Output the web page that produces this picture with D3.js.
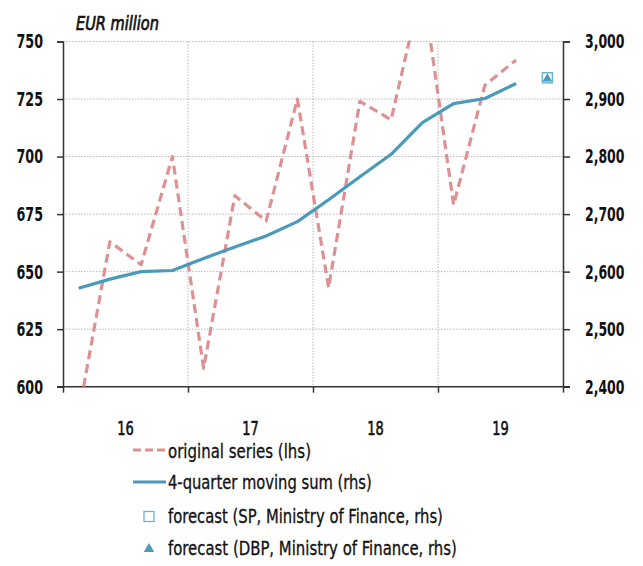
<!DOCTYPE html>
<html>
<head>
<meta charset="utf-8">
<script src="https://cdn.jsdelivr.net/npm/d3@7"></script>
<style>
  html, body { margin: 0; padding: 0; background: #fff; }
  svg { display: block; }
  text { font-family: "DejaVu Sans Condensed", "DejaVu Sans", sans-serif; fill: #111; }
</style>
</head>
<body>
<svg id="chart" width="643" height="566"></svg>
<script>
// Quarterly periods, 2016Q1 .. 2019Q3
const quarters = ["2016Q1","2016Q2","2016Q3","2016Q4",
                  "2017Q1","2017Q2","2017Q3","2017Q4",
                  "2018Q1","2018Q2","2018Q3","2018Q4",
                  "2019Q1","2019Q2","2019Q3"];
// Original quarterly series, EUR million (left axis)
const originalSeries = [588, 663, 653, 700, 608, 683, 672, 725, 643, 724, 716, 775, 679, 731, 742];
// 4-quarter moving sum, EUR million (right axis)
const movingSum = [2571, 2587, 2600, 2602, 2623, 2643, 2662, 2687, 2725, 2765, 2804, 2859, 2892, 2901, 2927];
// Forecasts for 2019Q4 (right axis)
const forecastPeriod = "2019Q4";
const forecastSP = 2937;
const forecastDBP = 2937;

const years = [2016, 2017, 2018, 2019];
const yearLabels = ["16", "17", "18", "19"];
const leftTicks = [600, 625, 650, 675, 700, 725, 750];
const rightTicks = [2400, 2500, 2600, 2700, 2800, 2900, 3000];

const legendItems = [
  {label: "original series (lhs)", kind: "dash", width: 143},
  {label: "4-quarter moving sum (rhs)", kind: "line", width: 204},
  {label: "forecast (SP, Ministry of Finance, rhs)", kind: "square", width: 275},
  {label: "forecast (DBP, Ministry of Finance, rhs)", kind: "triangle", width: 289}
];

const RED = "#dd9192";
const BLUE = "#4a9aba";
const LIGHTBLUE = "#6fb0cc";
const AXIS = "#333";
const GRID = "#b8b8b8";

const svg = d3.select("#chart");
const plot = {left: 63, right: 563, top: 41.5, bottom: 386.7};

// quarter -> decimal year at the middle of the quarter
const qTime = q => +q.slice(0, 4) + (+q.slice(5) - 0.5) / 4;

const x = d3.scaleLinear().domain([2016, 2020]).range([plot.left, plot.right]);
const yL = d3.scaleLinear().domain([600, 750]).range([plot.bottom, plot.top]);
const yR = d3.scaleLinear().domain([2400, 3000]).range([plot.bottom, plot.top]);

// Squeeze labels horizontally to a condensed width, scaling about their anchor x
function narrow(sel, width) {
  sel.each(function () {
    const t = d3.select(this);
    const natural = this.getComputedTextLength();
    const w = typeof width === "function" ? width.call(this) : width;
    const k = w / natural;
    const ax = +(t.attr("x") || 0);
    t.attr("transform", `translate(${ax},0) scale(${k},1) translate(${-ax},0)`);
  });
}

svg.append("defs").append("clipPath").attr("id", "plotClip")
  .append("rect")
  .attr("x", plot.left).attr("y", plot.top - 1)
  .attr("width", plot.right - plot.left).attr("height", plot.bottom - plot.top + 1);

// Grid: horizontal at each tick, vertical at year boundaries
const grid = svg.append("g");
grid.selectAll("line.h").data(leftTicks.slice(1)).join("line")
  .attr("x1", plot.left).attr("x2", plot.right)
  .attr("y1", d => yL(d)).attr("y2", d => yL(d))
  .attr("stroke", GRID).attr("stroke-width", 1).attr("stroke-dasharray", "1.5,1.5");
grid.selectAll("line.v").data([2017, 2018, 2019]).join("line")
  .attr("x1", d => x(d)).attr("x2", d => x(d))
  .attr("y1", plot.top).attr("y2", plot.bottom)
  .attr("stroke", GRID).attr("stroke-width", 1).attr("stroke-dasharray", "1.5,1.5");

// Axes
const fmt = d3.format(",");
const axL = svg.append("g").attr("transform", `translate(${plot.left},0)`)
  .call(d3.axisLeft(yL).tickValues(leftTicks).tickSize(6).tickPadding(14));
const axR = svg.append("g").attr("transform", `translate(${plot.right},0)`)
  .call(d3.axisRight(yR).tickValues(rightTicks).tickSize(7).tickPadding(15).tickFormat(fmt));
const axB = svg.append("g").attr("transform", `translate(0,${plot.bottom})`)
  .call(d3.axisBottom(x).tickValues([2016, 2017, 2018, 2019, 2020]).tickSize(6).tickFormat(""));

[axL, axR, axB].forEach(g => {
  g.select(".domain").attr("stroke", AXIS).attr("stroke-width", 1.5);
  g.selectAll(".tick line").attr("stroke", AXIS).attr("stroke-width", 1.5);
  g.selectAll(".tick text").attr("font-family", null)
    .attr("font-size", 20).attr("font-weight", "bold").attr("fill", "#111");
});
axL.selectAll(".tick text").call(narrow, 26.5);
axR.selectAll(".tick text").call(narrow, 39.5);
// extend bottom axis line over the tick stubs of the vertical axes
axB.select(".domain").attr("d", `M${plot.left - 6},0H${plot.right + 7}`);

// Year labels centred in each year
svg.append("g").selectAll("text").data(years).join("text")
  .attr("x", d => x(d + 0.5)).attr("y", 428).attr("dy", "0.36em")
  .attr("text-anchor", "middle").attr("font-size", 20)
  .attr("stroke", "#111").attr("stroke-width", 0.6)
  .text((d, i) => yearLabels[i])
  .call(narrow, 16.5);

// Unit label
svg.append("text").attr("x", 76).attr("y", 30.5)
  .attr("font-size", 19).attr("font-style", "italic")
  .attr("stroke", "#111").attr("stroke-width", 0.7)
  .text("EUR million")
  .call(narrow, 83);

// Series
const series = svg.append("g").attr("clip-path", "url(#plotClip)");
const lineL = d3.line().x((d, i) => x(qTime(quarters[i]))).y(d => yL(d));
const lineR = d3.line().x((d, i) => x(qTime(quarters[i]))).y(d => yR(d));

series.append("path").datum(originalSeries)
  .attr("d", lineL).attr("fill", "none")
  .attr("stroke", RED).attr("stroke-width", 3.2)
  .attr("stroke-dasharray", "9,5").attr("stroke-linejoin", "round");

series.append("path").datum(movingSum)
  .attr("d", lineR).attr("fill", "none")
  .attr("stroke", BLUE).attr("stroke-width", 3.2).attr("stroke-linejoin", "round");

// Forecast markers
const fx = x(qTime(forecastPeriod));
svg.append("rect")
  .attr("x", fx - 5).attr("y", yR(forecastSP) - 5).attr("width", 10).attr("height", 10)
  .attr("fill", "#fff").attr("stroke", LIGHTBLUE).attr("stroke-width", 1.5);
svg.append("path")
  .attr("transform", `translate(${fx},${yR(forecastDBP) + 1})`)
  .attr("d", d3.symbol(d3.symbolTriangle, 40))
  .attr("fill", BLUE);

// Legend
const rowsY = [451, 482, 516, 548];
const leg = svg.append("g");
legendItems.forEach((item, i) => {
  const y = rowsY[i];
  if (item.kind === "dash") {
    leg.append("line").attr("x1", 133).attr("x2", 166).attr("y1", y - 1).attr("y2", y - 1)
      .attr("stroke", RED).attr("stroke-width", 3.2).attr("stroke-dasharray", "8,4");
  } else if (item.kind === "line") {
    leg.append("line").attr("x1", 133).attr("x2", 166).attr("y1", y).attr("y2", y)
      .attr("stroke", BLUE).attr("stroke-width", 3.2);
  } else if (item.kind === "square") {
    leg.append("rect").attr("x", 144).attr("y", y - 4.5).attr("width", 10).attr("height", 10)
      .attr("fill", "#fff").attr("stroke", LIGHTBLUE).attr("stroke-width", 1.3);
  } else {
    leg.append("path").attr("transform", `translate(149,${y + 1})`)
      .attr("d", d3.symbol(d3.symbolTriangle, 48)).attr("fill", BLUE);
  }
  leg.append("text").attr("x", 168).attr("y", y).attr("dy", "0.36em")
    .attr("font-size", 19).attr("stroke", "#111").attr("stroke-width", 0.3)
    .text(item.label)
    .call(narrow, item.width);
});
</script>
</body>
</html>
